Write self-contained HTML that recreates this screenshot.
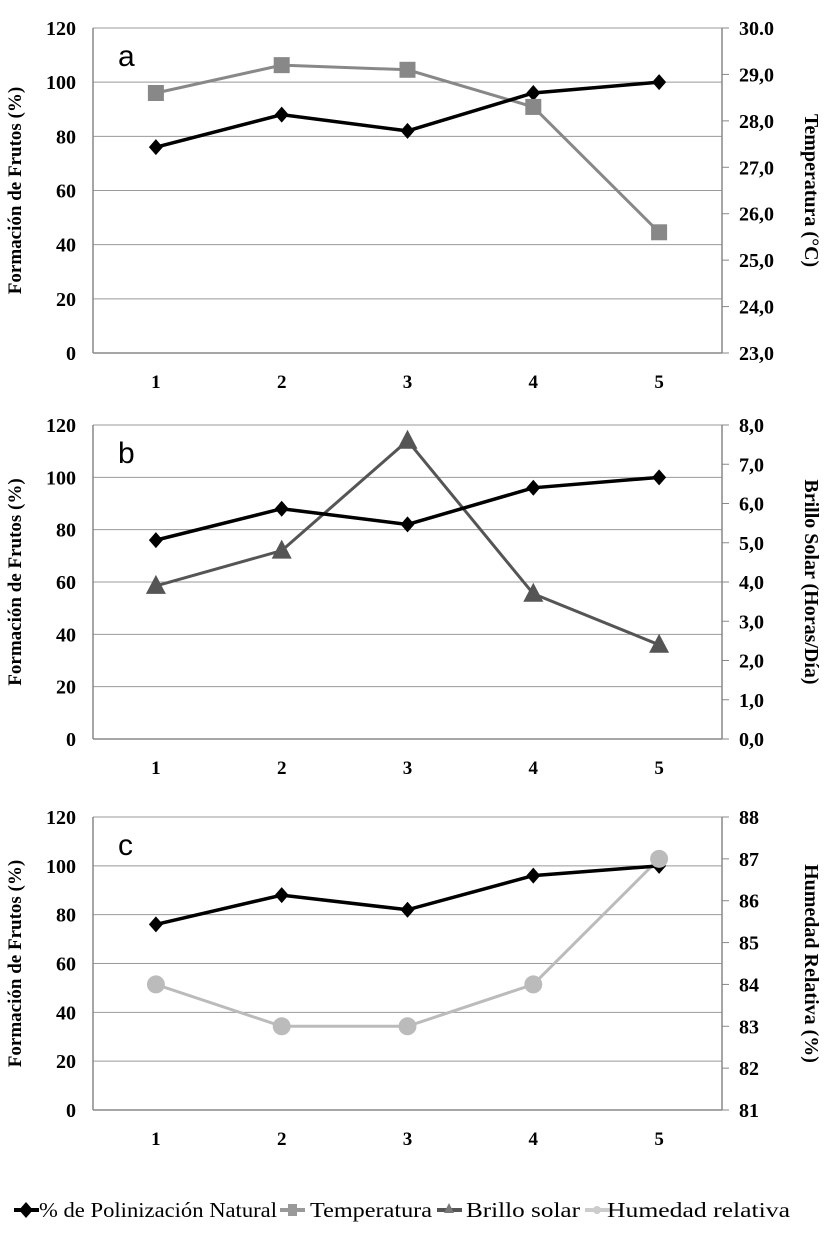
<!DOCTYPE html>
<html><head><meta charset="utf-8">
<style>
html,body{margin:0;padding:0;background:#fff;}
svg text{font-family:"Liberation Serif",serif;font-weight:bold;}
</style></head>
<body>
<svg id="chart" width="830" height="1253" xmlns="http://www.w3.org/2000/svg"></svg>
<script>
const categories = ["1","2","3","4","5"];
const pollination = [76, 88, 82, 96, 100];
const temperature = [28.6, 29.2, 29.1, 28.3, 25.6];
const sunshine = [3.9, 4.8, 7.6, 3.7, 2.4];
const humidity = [84, 83, 83, 84, 87];
const leftTicks = [0,20,40,60,80,100,120];
const tempTicks = ["23,0","24,0","25,0","26,0","27,0","28,0","29,0","30.0"];
const sunTicks = ["0,0","1,0","2,0","3,0","4,0","5,0","6,0","7,0","8,0"];
const humTicks = ["81","82","83","84","85","86","87","88"];

const NS = "http://www.w3.org/2000/svg";
const svg = document.getElementById("chart");
const SERIF = "'Liberation Serif', serif";
function mk(tag, attrs, parent){
  const e = document.createElementNS(NS, tag);
  if (tag==="text") e.setAttribute("font-family", SERIF);
  for (const k in attrs) e.setAttribute(k, attrs[k]);
  (parent||svg).appendChild(e);
  return e;
}
const X0 = 93, X1 = 722;
function xPos(i){ return X0 + (X1-X0)/categories.length*(i+0.5); }

const panels = [
  {id:"a", top:28, bottom:353, rmin:23, rmax:30, rticks:tempTicks, rvals:temperature, rtitle:"Temperatura (°C)", color:"#888", marker:"square", sw:3, name:"temperature"},
  {id:"b", top:425, bottom:739, rmin:0, rmax:8, rticks:sunTicks, rvals:sunshine, rtitle:"Brillo Solar (Horas/Día)", color:"#555", marker:"triangle", sw:3, name:"sunshine"},
  {id:"c", top:817, bottom:1110, rmin:81, rmax:88, rticks:humTicks, rvals:humidity, rtitle:"Humedad  Relativa (%)", color:"#bbb", marker:"circle", sw:3, name:"humidity"}
];

function marker(type, x, y, color, g){
  let e;
  if (type==="square") e = mk("rect",{x:x-8,y:y-8,width:16,height:16,fill:color},g);
  else if (type==="triangle") e = mk("polygon",{points:`${x},${y-11} ${x+10},${y+8} ${x-10},${y+8}`,fill:color},g);
  else if (type==="circle") e = mk("circle",{cx:x,cy:y,r:9,fill:color},g);
  else e = mk("polygon",{points:`${x},${y-8} ${x+7},${y} ${x},${y+8} ${x-7},${y}`,fill:color},g);
  return e;
}

panels.forEach(p=>{
  const g = mk("g",{});
  
  
  const yL = v => p.bottom - (v/120)*(p.bottom-p.top);
  const yR = v => p.bottom - (v-p.rmin)/(p.rmax-p.rmin)*(p.bottom-p.top);
  leftTicks.forEach(t=>{
    const y = yL(t);
    if (t>0) mk("line",{x1:X0,x2:X1,y1:y,y2:y,stroke:"#999","stroke-width":1},g);
    const tx = mk("text",{x:76,y:y+7,"text-anchor":"end","font-size":20},g);
    tx.textContent = t;
    
    
  });
  p.rticks.forEach((t,i)=>{
    const y = p.bottom - i/(p.rticks.length-1)*(p.bottom-p.top);
    mk("line",{x1:X1,x2:X1+7,y1:y,y2:y,stroke:"#888","stroke-width":1},g);
    const tx = mk("text",{x:739,y:y+7,"font-size":20},g);
    tx.textContent = t;
    
    
  });
  mk("line",{x1:X0,x2:X0,y1:p.top,y2:p.bottom,stroke:"#888","stroke-width":1.5},g);
  mk("line",{x1:X1,x2:X1,y1:p.top,y2:p.bottom,stroke:"#888","stroke-width":1.5},g);
  mk("line",{x1:X0,x2:X1,y1:p.bottom,y2:p.bottom,stroke:"#888","stroke-width":1.5},g);
  categories.forEach((c,i)=>{
    const tx = mk("text",{x:xPos(i),y:p.bottom+35,"text-anchor":"middle","font-size":19},g);
    tx.textContent = c;
    
    
  });
  const lt = mk("text",{transform:`translate(21,${(p.top+p.bottom)/2}) rotate(-90)`,"text-anchor":"middle","font-size":19},g);
  lt.textContent = "Formación de Frutos (%)";
  
  
  const rt = mk("text",{transform:`translate(805,${(p.top+p.bottom)/2}) rotate(90)`,"text-anchor":"middle","font-size":20},g);
  rt.textContent = p.rtitle;
  
  
  const pl = mk("text",{x:118,y:p.top+38,"font-size":30,"font-family":"'Liberation Sans', sans-serif",style:"font-family:'Liberation Sans',sans-serif;font-weight:normal"},g);
  pl.textContent = p.id;
  
  
  const rp = mk("polyline",{points:p.rvals.map((v,i)=>xPos(i)+","+yR(v)).join(" "),fill:"none",stroke:p.color,"stroke-width":p.sw},g);
  
  
  const pp = mk("polyline",{points:pollination.map((v,i)=>xPos(i)+","+yL(v)).join(" "),fill:"none",stroke:"#000","stroke-width":3.5},g);
  
  
  pollination.forEach((v,i)=>{
    const m = marker("diamond", xPos(i), yL(v), "#000", g);
    
    
  });
  p.rvals.forEach((v,i)=>{
    const m = marker(p.marker, xPos(i), yR(v), p.color, g);
    
    
  });
});

const legend = [
  {label:"% de Polinización Natural", color:"#000", m:"diamond", x:14, tx:39, tw:238},
  {label:"Temperatura", color:"#999", m:"square", x:280, tx:310, tw:122},
  {label:"Brillo solar", color:"#555", m:"triangle", x:437, tx:466, tw:114},
  {label:"Humedad relativa", color:"#ccc", m:"circle", x:585, tx:607, tw:183}
];
const lg = mk("g",{});


legend.forEach(l=>{
  const g = mk("g",{},lg);
  
  
  const y = 1210;
  mk("line",{x1:l.x,x2:l.x+25,y1:y,y2:y,stroke:l.color,"stroke-width":4},g);
  if (l.m==="diamond") marker("diamond", l.x+12, y, l.color, g);
  else if (l.m==="square") mk("rect",{x:l.x+8,y:y-6,width:9,height:12,fill:l.color},g);
  else if (l.m==="triangle") mk("polygon",{points:`${l.x+12},${y-7} ${l.x+17},${y+3} ${l.x+7},${y+3}`,fill:"#777"},g);
  else mk("circle",{cx:l.x+12,cy:y,r:4,fill:l.color},g);
  const t = mk("text",{x:l.tx,y:y+7,"font-size":21,textLength:l.tw,lengthAdjust:"spacingAndGlyphs",style:"font-weight:normal"},g);
  t.textContent = l.label;
});
</script>
</body></html>
